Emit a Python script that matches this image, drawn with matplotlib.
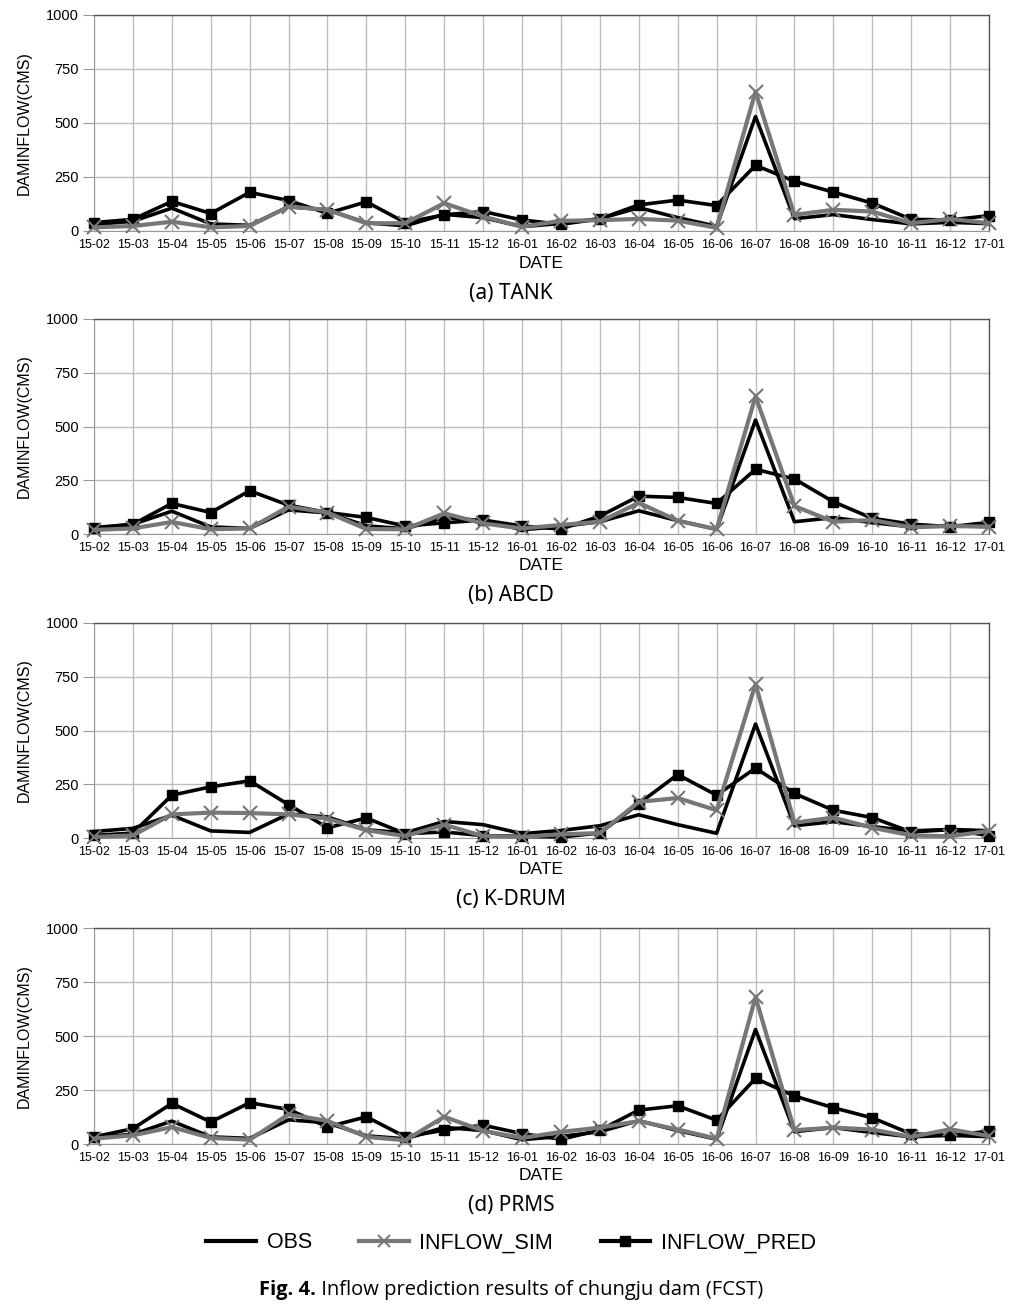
import matplotlib
matplotlib.use("Agg")
import matplotlib.pyplot as plt
from matplotlib.lines import Line2D

dates = ["15-02", "15-03", "15-04", "15-05", "15-06", "15-07", "15-08", "15-09",
         "15-10", "15-11", "15-12", "16-01", "16-02", "16-03", "16-04", "16-05",
         "16-06", "16-07", "16-08", "16-09", "16-10", "16-11", "16-12", "17-01"]

obs = [30, 45, 106, 33, 26, 112, 98, 38, 24, 77, 62, 20,
       35, 57, 108, 62, 22, 530, 57, 76, 53, 33, 40, 34]

# (a) TANK
tank_sim = [17, 23, 43, 17, 23, 113, 98, 36, 36, 129, 67, 20,
            47, 50, 56, 48, 15, 645, 75, 98, 90, 36, 56, 36]
tank_pred = [39, 54, 137, 81, 179, 141, 82, 135, 39, 75, 90, 51,
             31, 56, 121, 143, 118, 304, 230, 180, 129, 54, 51, 71]

# (b) ABCD
abcd_sim = [19, 26, 56, 22, 26, 127, 100, 23, 22, 96, 49, 26,
            42, 57, 145, 62, 22, 640, 130, 57, 65, 31, 37, 34]
abcd_pred = [26, 45, 142, 100, 201, 134, 100, 77, 37, 52, 65, 37,
             23, 83, 176, 170, 142, 301, 256, 150, 73, 46, 34, 54]

# (c) K-DRUM
kdrum_sim = [5, 12, 110, 118, 116, 110, 90, 36, 9, 62, 9, 5,
             17, 23, 168, 186, 129, 716, 71, 95, 48, 12, 8, 33]
kdrum_pred = [12, 23, 199, 238, 266, 155, 48, 93, 20, 28, 11, 8,
              5, 23, 160, 295, 199, 325, 207, 129, 95, 28, 39, 11]

# (d) PRMS
prms_sim = [25, 40, 78, 28, 20, 137, 107, 33, 17, 126, 61, 28,
            56, 76, 106, 67, 25, 680, 64, 76, 67, 33, 68, 37]
prms_pred = [33, 71, 188, 102, 191, 160, 79, 126, 33, 64, 87, 48,
             22, 64, 157, 177, 110, 304, 222, 168, 121, 47, 40, 59]

panels = [("(a) TANK", tank_sim, tank_pred),
          ("(b) ABCD", abcd_sim, abcd_pred),
          ("(c) K-DRUM", kdrum_sim, kdrum_pred),
          ("(d) PRMS", prms_sim, prms_pred)]

W, H = 1031, 1307
fig = plt.figure(figsize=(W / 100, H / 100), dpi=100)

# pixel boxes (top, bottom) of each plot area
tops = [15, 319, 623, 928]
bots = [231, 534, 838, 1144]
left, right = 94, 989

SIM_C = "#777777"
GRID_C = "#bdbdbd"

for (cap, sim, pred), top, bot in zip(panels, tops, bots):
    ax = fig.add_axes([left / W, 1 - bot / H, (right - left) / W, (bot - top) / H])
    x = list(range(len(dates)))
    ax.plot(x, obs, color="black", lw=2.6, zorder=4, clip_on=False)
    ax.plot(x, sim, color=SIM_C, lw=3.0, marker="x", ms=10, mew=1.5,
            zorder=5, clip_on=False)
    ax.plot(x, pred, color="black", lw=2.6, marker="s", ms=7, zorder=3,
            clip_on=False)
    ax.set_xlim(0, len(dates) - 1)
    ax.set_ylim(0, 1000)
    ax.set_yticks([0, 250, 500, 750, 1000])
    ax.set_xticks(x)
    ax.set_xticklabels(dates, fontsize=9, family="Liberation Sans")
    for lab in ax.get_yticklabels():
        lab.set_fontsize(10.5)
        lab.set_family("Liberation Sans")
    ax.grid(True, color=GRID_C, lw=1.0)
    ax.set_axisbelow(True)
    ax.tick_params(axis="y", length=8, color="#999999", pad=3)
    ax.tick_params(axis="x", length=0, pad=6)
    for s in ["top", "right"]:
        ax.spines[s].set_color("#555555")
        ax.spines[s].set_linewidth(1.0)
    ax.spines["left"].set_color("#999999")
    ax.spines["bottom"].set_color("#999999")
    ax.set_xlabel("DATE", fontsize=12.5, family="Liberation Sans", labelpad=3)
    ax.set_ylabel("DAMINFLOW(CMS)", fontsize=11.5, family="Liberation Sans",
                  labelpad=10)
    fig.text(511 / W, 1 - (bot + 62) / H, cap, ha="center", va="center",
             fontsize=15, family="Noto Sans")

handles = [
    Line2D([], [], color="black", lw=3),
    Line2D([], [], color=SIM_C, lw=3, marker="x", ms=8, mew=1.5,
           markevery=[1, 2]),
    Line2D([], [], color="black", lw=3, marker="s", ms=7, markevery=[1, 2]),
]
fig.legend(handles, ["OBS", "INFLOW_SIM", "INFLOW_PRED"], ncol=3,
           loc="center", bbox_to_anchor=(511 / W, 1 - 1243 / H),
           frameon=False, handlelength=2.3, handletextpad=0.5,
           columnspacing=2.2,
           prop={"family": "Liberation Sans", "size": 15.5})

# caption with bold "Fig. 4."
cy = 1 - 1290 / H
t1 = fig.text(0, cy, "Fig. 4.", fontsize=14.5, weight="bold", family="Open Sans",
              va="center")
t2 = fig.text(0, cy, " Inflow prediction results of chungju dam (FCST)",
              fontsize=14.5, family="Open Sans", va="center")
fig.canvas.draw()
r = fig.canvas.get_renderer()
w1 = t1.get_window_extent(r).width
w2 = t2.get_window_extent(r).width
x0 = 511 - (w1 + w2) / 2
t1.set_x(x0 / W)
t2.set_x((x0 + w1) / W)

fig.savefig("out.png", dpi=100)
